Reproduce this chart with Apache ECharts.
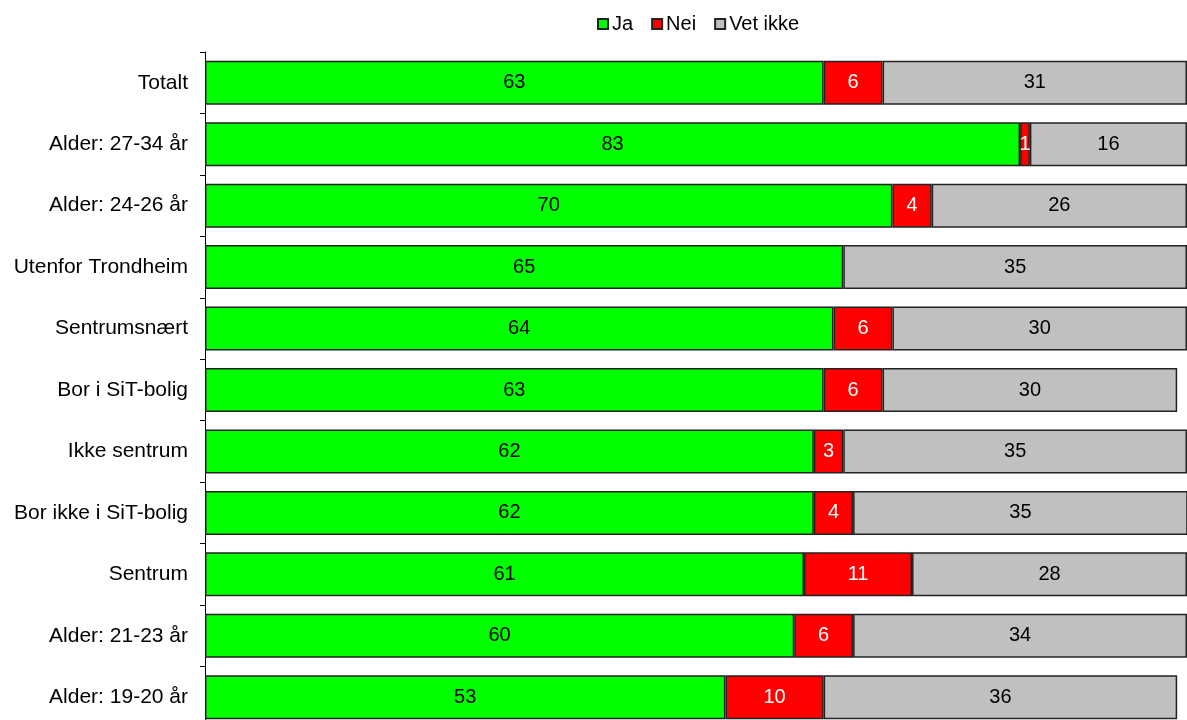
<!DOCTYPE html>
<html>
<head>
<meta charset="utf-8">
<script src="https://cdn.jsdelivr.net/npm/echarts@6/dist/echarts.min.js"></script>
<style>
  html, body { margin: 0; padding: 0; background: #fff; }
  #main { width: 1187px; height: 720px; }
</style>
</head>
<body>
<div id="main"></div>
<script>
// kategorier, ovenfra og ned
var categories = ['Totalt', 'Alder: 27-34 år', 'Alder: 24-26 år', 'Utenfor Trondheim', 'Sentrumsnært',
    'Bor i SiT-bolig', 'Ikke sentrum', 'Bor ikke i SiT-bolig', 'Sentrum', 'Alder: 21-23 år', 'Alder: 19-20 år'];
var ja      = [63, 83, 70, 65, 64, 63, 62, 62, 61, 60, 53];
var nei     = [6, 1, 4, null, 6, 6, 3, 4, 11, 6, 10];
var vetIkke = [31, 16, 26, 35, 30, 30, 35, 35, 28, 34, 36];

var font = 'Liberation Sans, Arial, sans-serif';

function makeSeries(name, data, color, labelColor) {
    return {
        name: name,
        type: 'bar',
        stack: 'total',
        barWidth: 44,
        data: data,
        itemStyle: {
            color: color,
            borderColor: '#222',
            borderWidth: 1.5
        },
        label: {
            show: true,
            position: 'inside',
            color: labelColor,
            fontSize: 20,
            fontFamily: font,
            formatter: function (p) {
                return p.value ? p.value : '';
            }
        },
        emphasis: { disabled: true }
    };
}

var myChart = echarts.init(document.getElementById('main'));
var option = {
    animation: false,
    legend: {
        top: 9,
        left: 592,
        itemWidth: 10,
        itemHeight: 10,
        itemGap: 18,
        icon: 'rect',
        textStyle: { fontSize: 20, fontFamily: font, color: '#000', padding: [0, 0, 0, -1] },
        data: ['Ja', 'Nei', 'Vet ikke']
    },
    grid: {
        left: 205,
        right: 0,
        top: 52,
        height: 676,
        outerBoundsMode: 'none'
    },
    xAxis: {
        type: 'value',
        min: 0,
        max: 100,
        show: false
    },
    yAxis: {
        type: 'category',
        inverse: true,
        data: categories,
        axisLine: { lineStyle: { color: '#000', width: 1 } },
        axisTick: { show: true, length: 5, lineStyle: { color: '#000' } },
        axisLabel: { color: '#000', fontSize: 21, fontFamily: font, margin: 17 }
    },
    series: [
        makeSeries('Ja', ja, '#00ff00', '#000'),
        makeSeries('Nei', nei, '#ff0000', '#fff'),
        makeSeries('Vet ikke', vetIkke, '#c0c0c0', '#000')
    ]
};
myChart.setOption(option);
</script>
</body>
</html>
